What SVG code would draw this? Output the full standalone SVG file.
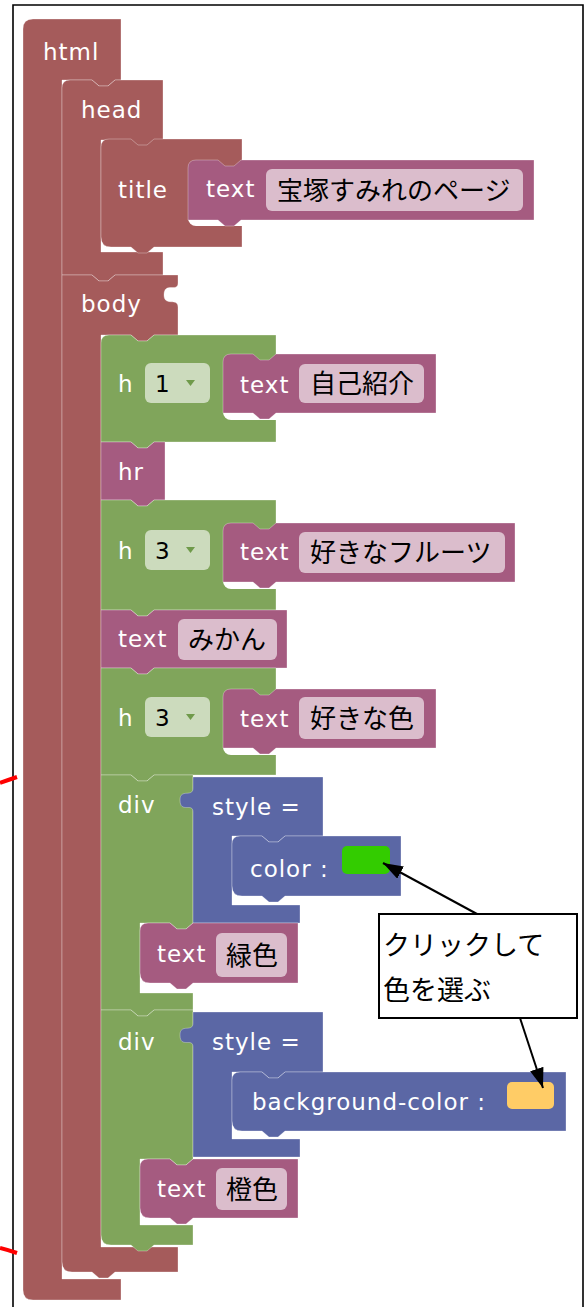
<svg xmlns="http://www.w3.org/2000/svg" width="586" height="1307" viewBox="0 0 586 1307">
<style>
.b{stroke:#fff;stroke-opacity:.3;stroke-width:1}
.rd{fill:#a55b5b}.pk{fill:#a55b80}.gr{fill:#80a55b}.bl{fill:#5b67a5}
.fld{fill:#fff;fill-opacity:.6}
.hole{fill:#fff}
.lbl{font-family:"DejaVu Sans",sans-serif;font-size:23px;fill:#fff;letter-spacing:1px}
.num{font-family:"DejaVu Sans",sans-serif;font-size:23px;fill:#000}
.jp{font-family:"Noto Sans CJK JP",sans-serif;font-size:26px;fill:#000}
.co{font-family:"Noto Sans CJK JP",sans-serif;font-size:27px;fill:#000}
.dd{fill:#6f9a4a}
.conn{stroke:#000;stroke-width:2;fill:none}
</style>
<defs>
<marker id="ah" markerUnits="userSpaceOnUse" markerWidth="20" markerHeight="14" refX="20" refY="7" orient="auto">
<path d="M0,0 L20,7 L0,14 Z" fill="#000"/>
</marker>
</defs>
<rect width="586" height="1307" fill="#fff"/>
<path d="M13,1307 V5 H583 V1307" fill="none" stroke="#000" stroke-width="1.6"/>
<path d="M0,783 Q8,780 17,777" fill="none" stroke="#f00" stroke-width="4"/>
<path d="M0,1248 Q8,1250 17,1253" fill="none" stroke="#f00" stroke-width="4"/>

<g id="html">
<path class="b rd" d="M23,29 Q23,19 33,19 H121 V80 H115 l-7,6 h-9 l-7,-6 H62 V1279 H121 V1300 H33 Q23,1300 23,1290 Z"/>
<text class="lbl" x="43" y="60">html</text>
</g>
<g id="head">
<path class="b rd" d="M62,88 Q62,80 70,80 H92 l7,6 h9 l7,-6 H163 V140 H154 l-7,6 h-9 l-7,-6 H101 V252 H163 V275 H115 l-7,6 h-9 l-7,-6 H62 Z"/>
<text class="lbl" x="81" y="118">head</text>
</g>
<g id="title">
<path class="b rd" d="M101,147 Q101,139 109,139 H131 l7,6 h9 l7,-6 H242 V247 H154 l-7,6 h-9 l-7,-6 H111 Q101,247 101,237 Z"/>
<text class="lbl" x="118" y="198">title</text>
<rect class="hole" x="188" y="166" width="346" height="60" rx="8"/>
</g>
<g id="title-text">
<path class="b pk" d="M188,168 Q188,160 196,160 H218 l7,6 h9 l7,-6 H534 V220 H241 l-7,6 h-9 l-7,-6 H188 Z"/>
<text class="lbl" x="206" y="197">text</text>
<rect class="fld" x="266" y="169" width="257" height="42" rx="6"/>
<text class="jp" x="277" y="200">宝塚すみれのページ</text>
</g>
<g id="body">
<path class="b rd" d="M62,275 H92 l7,6 h9 l7,-6 H178 V283 C178,293 164,281 164,295 C164,307 178,297 178,307 V335 H154 l-7,6 h-9 l-7,-6 H101 V1247 H178 V1272 H115 l-7,6 h-9 l-7,-6 H72 Q62,1272 62,1262 Z"/>
<text class="lbl" x="81" y="312">body</text>
</g>
<g id="h1">
<path class="b gr" d="M101,343 Q101,335 109,335 H131 l7,6 h9 l7,-6 H276 V442 H154 l-7,6 h-9 l-7,-6 H101 Z"/>
<text class="lbl" x="118" y="392">h</text>
<rect class="fld" x="145" y="363" width="65" height="40" rx="6"/>
<text class="num" x="155" y="392">1</text>
<path class="dd" d="M186,380 h9 l-4.5,6 Z"/>
<rect class="hole" x="223" y="361" width="213" height="59" rx="8"/>
</g>
<g id="h1-text">
<path class="b pk" d="M223,362 Q223,354 231,354 H253 l7,6 h9 l7,-6 H436 V413 H276 l-7,6 h-9 l-7,-6 H223 Z"/>
<text class="lbl" x="240" y="393">text</text>
<rect class="fld" x="299" y="364" width="125" height="39" rx="6"/>
<text class="jp" x="310" y="393">自己紹介</text>
</g>
<g id="hr">
<path class="b pk" d="M101,442 H131 l7,6 h9 l7,-6 H165 V500 H154 l-7,6 h-9 l-7,-6 H101 Z"/>
<text class="lbl" x="118" y="480">hr</text>
</g>
<g id="h3a">
<path class="b gr" d="M101,500 H131 l7,6 h9 l7,-6 H276 V610 H154 l-7,6 h-9 l-7,-6 H101 Z"/>
<text class="lbl" x="118" y="559">h</text>
<rect class="fld" x="145" y="530" width="65" height="40" rx="6"/>
<text class="num" x="155" y="559">3</text>
<path class="dd" d="M186,547 h9 l-4.5,6 Z"/>
<rect class="hole" x="223" y="530" width="292" height="59" rx="8"/>
</g>
<g id="h3a-text">
<path class="b pk" d="M223,531 Q223,523 231,523 H253 l7,6 h9 l7,-6 H515 V582 H276 l-7,6 h-9 l-7,-6 H223 Z"/>
<text class="lbl" x="240" y="560">text</text>
<rect class="fld" x="299" y="532" width="206" height="41" rx="6"/>
<text class="jp" x="310" y="562">好きなフルーツ</text>
</g>
<g id="text-mikan">
<path class="b pk" d="M101,610 H131 l7,6 h9 l7,-6 H287 V668 H154 l-7,6 h-9 l-7,-6 H101 Z"/>
<text class="lbl" x="118" y="647">text</text>
<rect class="fld" x="178" y="619" width="99" height="41" rx="6"/>
<text class="jp" x="188" y="649">みかん</text>
</g>
<g id="h3b">
<path class="b gr" d="M101,668 H131 l7,6 h9 l7,-6 H276 V775 H154 l-7,6 h-9 l-7,-6 H101 Z"/>
<text class="lbl" x="118" y="726">h</text>
<rect class="fld" x="145" y="697" width="65" height="40" rx="6"/>
<text class="num" x="155" y="726">3</text>
<path class="dd" d="M186,714 h9 l-4.5,6 Z"/>
<rect class="hole" x="223" y="696" width="213" height="59" rx="8"/>
</g>
<g id="h3b-text">
<path class="b pk" d="M223,697 Q223,689 231,689 H253 l7,6 h9 l7,-6 H436 V748 H276 l-7,6 h-9 l-7,-6 H223 Z"/>
<text class="lbl" x="240" y="727">text</text>
<rect class="fld" x="299" y="697" width="125" height="42" rx="6"/>
<text class="jp" x="310" y="728">好きな色</text>
</g>
<g id="div1">
<path class="b gr" d="M101,775 H131 l7,6 h9 l7,-6 H193 V923 l-7,6 h-9 l-7,-6 H140 V993 H193 V1010 H154 l-7,6 h-9 l-7,-6 H101 Z"/>
<text class="lbl" x="118" y="813">div</text>
</g>
<g id="style1">
<path class="b bl" d="M193,777 H323 V836 H285 l-7,6 h-9 l-7,-6 H232 V905 H300 V923 H193 V812 C193,802 180,814 180,800 C180,788 193,798 193,788 Z"/>
<text class="lbl" x="212" y="815">style =</text>
</g>
<g id="color">
<path class="b bl" d="M232,844 Q232,836 240,836 H262 l7,6 h9 l7,-6 H401 V896 H285 l-7,6 h-9 l-7,-6 H242 Q232,896 232,886 Z"/>
<text class="lbl" x="250" y="877">color :</text>
<rect x="342" y="846" width="48" height="28" rx="5" fill="#33cc00"/>
</g>
<g id="text-green">
<path class="b pk" d="M140,931 Q140,923 148,923 H170 l7,6 h9 l7,-6 H298 V983 H193 l-7,6 h-9 l-7,-6 H150 Q140,983 140,973 Z"/>
<text class="lbl" x="157" y="962">text</text>
<rect class="fld" x="216" y="933" width="71" height="44" rx="6"/>
<text class="jp" x="226" y="965">緑色</text>
</g>
<g id="div2">
<path class="b gr" d="M101,1010 H131 l7,6 h9 l7,-6 H193 V1159 l-7,6 h-9 l-7,-6 H140 V1225 H193 V1245 H154 l-7,6 h-9 l-7,-6 H111 Q101,1245 101,1235 Z"/>
<text class="lbl" x="118" y="1050">div</text>
</g>
<g id="style2">
<path class="b bl" d="M193,1012 H323 V1072 H285 l-7,6 h-9 l-7,-6 H232 V1139 H300 V1157 H193 V1047 C193,1037 180,1049 180,1035 C180,1023 193,1033 193,1023 Z"/>
<text class="lbl" x="212" y="1050">style =</text>
</g>
<g id="bgcolor">
<path class="b bl" d="M232,1080 Q232,1072 240,1072 H262 l7,6 h9 l7,-6 H566 V1131 H285 l-7,6 h-9 l-7,-6 H242 Q232,1131 232,1121 Z"/>
<text class="lbl" x="252" y="1110">background-color :</text>
<rect x="507" y="1082" width="47" height="27" rx="5" fill="#ffcc66"/>
</g>
<g id="text-orange">
<path class="b pk" d="M140,1167 Q140,1159 148,1159 H170 l7,6 h9 l7,-6 H298 V1218 H193 l-7,6 h-9 l-7,-6 H150 Q140,1218 140,1208 Z"/>
<text class="lbl" x="157" y="1197">text</text>
<rect class="fld" x="216" y="1168" width="71" height="42" rx="6"/>
<text class="jp" x="226" y="1199">橙色</text>
</g>
<g id="callout">
<rect x="379" y="914" width="198" height="104" fill="#fff" stroke="#000" stroke-width="2"/>
<text class="co" x="383" y="955">クリックして</text>
<text class="co" x="383" y="1000">色を選ぶ</text>
</g>
<g id="connectors">
<line class="conn" x1="477" y1="914" x2="383" y2="863" marker-end="url(#ah)"/>
<line class="conn" x1="520" y1="1018" x2="543" y2="1088" marker-end="url(#ah)"/>
</g>
</svg>
